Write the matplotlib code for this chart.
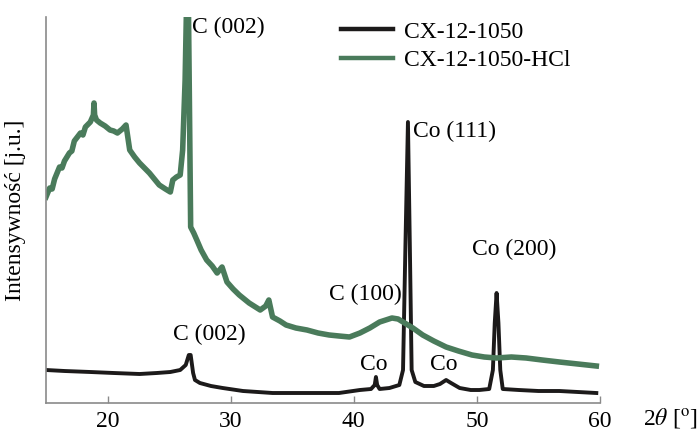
import matplotlib
matplotlib.use("Agg")
import matplotlib.pyplot as plt

# 2theta (deg) and intensity (arb. units)
x_hcl = [15.0, 15.3, 15.5, 15.7, 16.1, 16.3, 16.5, 16.9, 17.1, 17.3, 17.8, 18.0, 18.2, 18.6, 18.85, 18.9, 18.95,
         19.1, 19.4, 19.8, 20.2, 20.5, 20.8, 21.2, 21.5, 21.8, 22.2, 22.6, 23.0, 23.4, 23.8, 24.2, 24.7,
         25.1, 25.3, 25.6, 25.9, 26.1, 26.3, 26.45, 26.55, 26.65, 26.75, 27.0, 27.25, 27.6, 28.05, 28.5,
         28.9, 29.3, 29.7, 30.2, 30.7, 31.5, 32.4, 32.85, 33.1, 33.4, 34.0, 34.5, 35.3, 36.2, 37.1, 38.0,
         38.8, 39.65, 40.5, 41.3, 42.1, 42.6, 43.1, 43.6, 44.0, 44.8, 45.6, 46.5, 47.5, 48.5, 49.6,
         50.6, 51.6, 52.8, 54.0, 55.3, 56.7, 58.2, 59.7]
y_hcl = [206, 215, 214, 224, 236, 235, 242, 250, 252, 262, 270, 268, 276, 281, 288, 300, 288,
         283, 280, 277, 273, 272, 270, 274, 278, 253, 246, 240, 235, 230, 224, 218, 214,
         211, 223, 226, 228, 253, 323, 420, 420, 300, 176, 170, 163, 153, 143, 137,
         130, 136, 121, 114, 108, 100, 93, 97, 103, 86, 82, 78, 75, 73, 70, 68,
         67, 66, 70, 75, 81, 83, 85, 84, 81, 75, 68, 62, 56, 52, 48,
         46, 45, 46, 45, 43, 41, 39, 37]

x_cx = [15.0, 16.5, 18.6, 20.5, 22.6, 24.0, 25.1, 25.9, 26.35, 26.6, 26.75, 26.95, 27.1, 27.5, 28.4,
        29.35, 31.0, 33.4, 36.0, 38.8, 40.5, 41.4, 41.7, 41.8, 41.9, 42.1, 42.9, 43.7, 44.0, 44.2,
        44.4, 44.55, 44.7, 45.0, 45.7, 46.5, 47.0, 47.5, 47.9, 48.6, 49.5, 50.2, 51.0, 51.3, 51.45,
        51.6, 51.75, 51.9, 52.1, 53.4, 55.0, 56.7, 58.2, 59.7]
y_cx = [33, 32, 31, 30, 29, 30, 31, 33, 38, 48, 48, 30, 23, 20, 17,
        15, 12, 10, 10, 10, 13, 14, 18, 26, 18, 14, 15, 18, 33, 160,
        281, 160, 33, 21, 17, 17, 19, 23, 20, 15, 13, 13, 14, 33, 80,
        110, 80, 33, 14, 13, 12, 12, 11, 10]

labels = ["CX-12-1050", "CX-12-1050-HCl"]
xticks = [20, 30, 40, 50, 60]

plt.rcParams['font.family'] = ['Liberation Serif', 'DejaVu Serif']
plt.rcParams['mathtext.fontset'] = 'stix'
FS = 17

fig = plt.figure(figsize=(6.97, 4.34), dpi=100)
ax = fig.add_axes([46/697, 1-403/434, (600-46)/697, (403-17)/434])

ax.plot(x_cx, y_cx, color='#1c1a1a', lw=2.8, label=labels[0])
ax.plot(x_hcl, y_hcl, color='#4a7b5b', lw=4.0, label=labels[1])

ax.set_xlim(15, 60)
ax.set_ylim(0, 386)
ax.set_xticks(xticks)
ax.set_yticks([])
for s in ['top', 'right']:
    ax.spines[s].set_visible(False)
for s in ['left', 'bottom']:
    ax.spines[s].set_color('#8a8a8a')
    ax.spines[s].set_linewidth(1.2)
ax.tick_params(axis='x', direction='in', length=5, width=1, color='#8a8a8a',
               labelsize=FS, pad=6)
ax.set_ylabel("Intensywność [j.u.]", fontsize=FS)
ax.yaxis.set_label_coords(-0.036, 0.5)

fig.text(643/697, 1-418/434, r"2$\theta$ [$^{\rm o}$]", fontsize=FS, va='center', ha='left')

ann = [("C (002)", 26.84, 376), ("Co (111)", 44.77, 272), ("Co (200)", 49.6, 154),
       ("C (100)", 37.95, 109), ("C (002)", 25.3, 69), ("Co", 40.5, 38), ("Co", 46.2, 38)]
for t, xx, yy in ann:
    ax.text(xx, yy, t, fontsize=FS, va='center', ha='left')

leg = ax.legend(loc='upper left', bbox_to_anchor=((341-46)/554, 1-4/386), frameon=False,
                fontsize=FS, handlelength=2.2, handletextpad=0.45, borderpad=0,
                borderaxespad=0, labelspacing=0.3)
for l in leg.get_lines():
    l.set_linewidth(3.2)

fig.savefig("out.png", dpi=100)
